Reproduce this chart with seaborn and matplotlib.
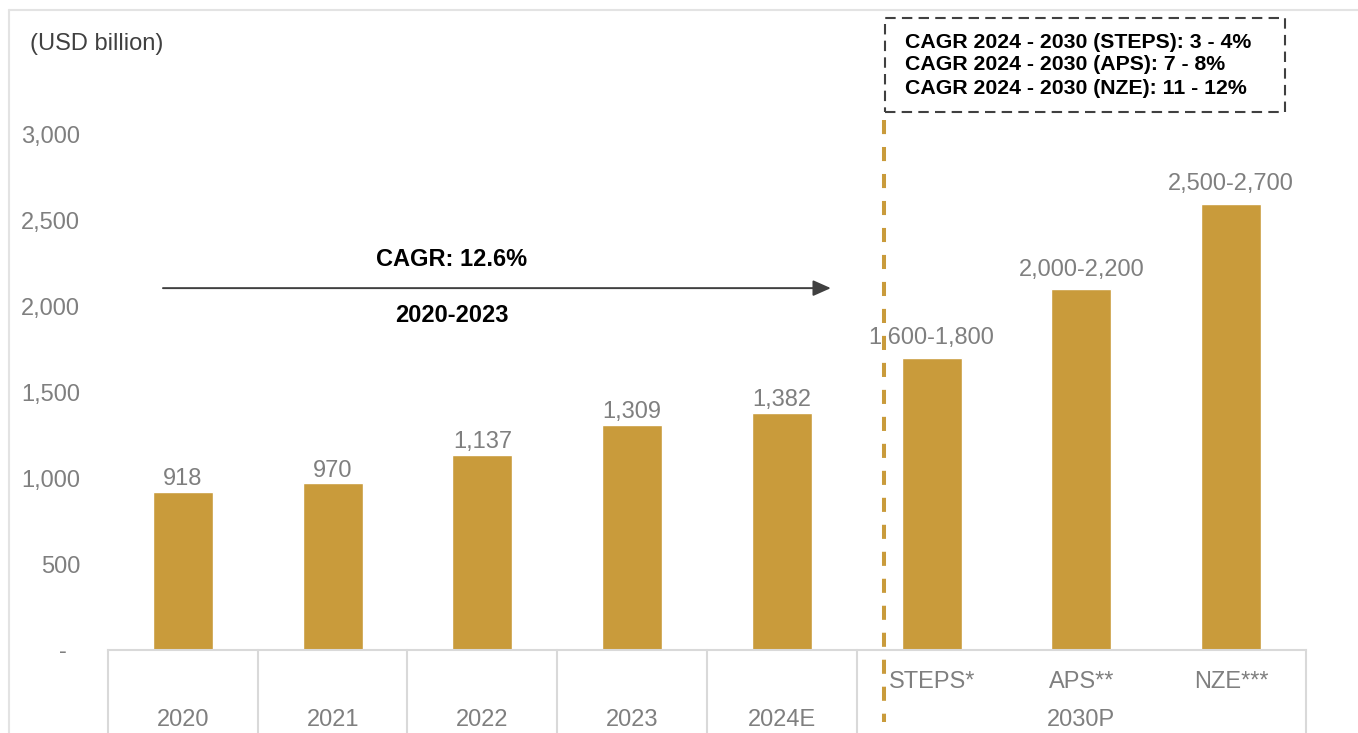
import matplotlib
matplotlib.use("Agg")
import matplotlib.pyplot as plt
import matplotlib.transforms as mtransforms
from matplotlib.lines import Line2D
from matplotlib.patches import Rectangle
import seaborn as sns
import pandas as pd

# ---- data -------------------------------------------------------------
categories = ["2020", "2021", "2022", "2023", "2024E", "STEPS*", "APS**", "NZE***"]
values = [918, 970, 1137, 1309, 1382, 1700, 2100, 2600]
value_labels = ["918", "970", "1,137", "1,309", "1,382",
                "1,600-1,800", "2,000-2,200", "2,500-2,700"]
year_labels = ["2020", "2021", "2022", "2023", "2024E"]
scenario_labels = ["STEPS*", "APS**", "NZE***"]
group_label = "2030P"
y_ticks = [0, 500, 1000, 1500, 2000, 2500, 3000]
y_tick_labels = ["-  ", "500", "1,000", "1,500", "2,000", "2,500", "3,000"]
scenario_notes = ["CAGR 2024 - 2030 (STEPS): 3 - 4%",
                  "CAGR 2024 - 2030 (APS): 7 - 8%",
                  "CAGR 2024 - 2030 (NZE): 11 - 12%"]
hist_cagr = "CAGR: 12.6%"
hist_period = "2020-2023"
unit_label = "(USD billion)"

GOLD = "#C99B3B"
GREY_TXT = "#7f7f7f"
DARK = "#404040"
LINE = "#d9d9d9"

sns.set_theme(style="white")
plt.rcParams["font.family"] = ["Liberation Sans", "DejaVu Sans"]

W, H = 1358, 733
fig = plt.figure(figsize=(W / 100, H / 100), dpi=100)


def fx(x):
    return x / W


def fy(y):
    return 1 - y / H


# plot area in pixel terms
ax_left, ax_right, ax_bottom, ax_top = 108, 1306, 650, 40
px_per_unit = 515 / 3000
ax = fig.add_axes([fx(ax_left), fy(ax_bottom),
                   (ax_right - ax_left) / W, (ax_bottom - ax_top) / H])

df = pd.DataFrame({"category": categories, "value": values})
sns.barplot(data=df, x="category", y="value", order=categories,
            color=GOLD, saturation=1, width=0.4, ax=ax)

ax.set_xlim(-0.5, len(categories) - 0.5)
ax.set_ylim(0, (ax_bottom - ax_top) / px_per_unit)
ax.set_xlabel("")
ax.set_ylabel("")
ax.set_xticks([])
ax.set_yticks(y_ticks)
ax.set_yticklabels(y_tick_labels)
ax.tick_params(axis="y", length=0, pad=20, labelsize=17, labelcolor=GREY_TXT)
for side in ("left", "right", "top"):
    ax.spines[side].set_visible(False)
ax.spines["bottom"].set_color(LINE)
ax.spines["bottom"].set_linewidth(1.5)

# value labels above bars (projection ranges sit a little higher)
n_hist = len(year_labels)
for i, (v, lab) in enumerate(zip(values, value_labels)):
    off = 5 if i < n_hist else 10
    ax.annotate(lab, (i, v), xytext=(0, off), textcoords="offset points",
                ha="center", va="baseline", fontsize=17, color=GREY_TXT)

# category table under the axis
blend = mtransforms.blended_transform_factory(ax.transData, ax.transAxes)
table_depth = -(H - ax_bottom) / (ax_bottom - ax_top)
for b in [-0.5, 0.5, 1.5, 2.5, 3.5, 4.5, 7.5]:
    ax.add_line(Line2D([b, b], [0, table_depth], transform=blend,
                       color=LINE, lw=1.5, clip_on=False))

row2_y = -(720 - ax_bottom) / (ax_bottom - ax_top)
row1_y = -(682 - ax_bottom) / (ax_bottom - ax_top)
for i, lab in enumerate(year_labels):
    ax.text(i, row2_y, lab, transform=blend, ha="center", va="center",
            fontsize=17, color=GREY_TXT, clip_on=False)
for j, lab in enumerate(scenario_labels):
    ax.text(n_hist + j, row1_y, lab, transform=blend, ha="center",
            va="center", fontsize=17, color=GREY_TXT, clip_on=False)
ax.text(n_hist + 1, row2_y, group_label, transform=blend,
        ha="center", va="center", fontsize=17, color=GREY_TXT, clip_on=False)

# historical growth arrow
ax.annotate("", xy=(4.327, 2108), xytext=(-0.133, 2108),
            arrowprops=dict(arrowstyle="-|>,head_length=0.9,head_width=0.4",
                            color=DARK, lw=1.4, shrinkA=0, shrinkB=0))
ax.text(1.793, 2272, hist_cagr, ha="center", va="center",
        fontsize=17, fontweight="bold", color="black")
ax.text(1.793, 1946, hist_period, ha="center", va="center",
        fontsize=17, fontweight="bold", color="black")

# divider between actuals and projections
fig.add_artist(Line2D([fx(884), fx(884)], [fy(120), fy(722)], color=GOLD,
                      lw=2.9, dashes=(3.5, 3.2)))

# scenario growth box
fig.add_artist(Rectangle((fx(885), fy(112)), fx(1285) - fx(885),
                         fy(18) - fy(112), fill=False, edgecolor=DARK,
                         lw=1.5, linestyle=(0, (5, 3))))
for k, note in enumerate(scenario_notes):
    fig.text(fx(905), fy(42 + 23 * k), note, ha="left", va="center",
             fontsize=15.3, fontweight="bold", color="black")

# unit label
fig.text(fx(30), fy(44), unit_label, ha="left", va="center",
         fontsize=17, color=DARK)

# outer frame edges
fig.add_artist(Line2D([fx(9), 1], [fy(10), fy(10)], color="#e3e3e3", lw=1.5))
fig.add_artist(Line2D([fx(9), fx(9)], [fy(10), 0], color="#e3e3e3", lw=1.5))

fig.savefig("out.png", dpi=100)
